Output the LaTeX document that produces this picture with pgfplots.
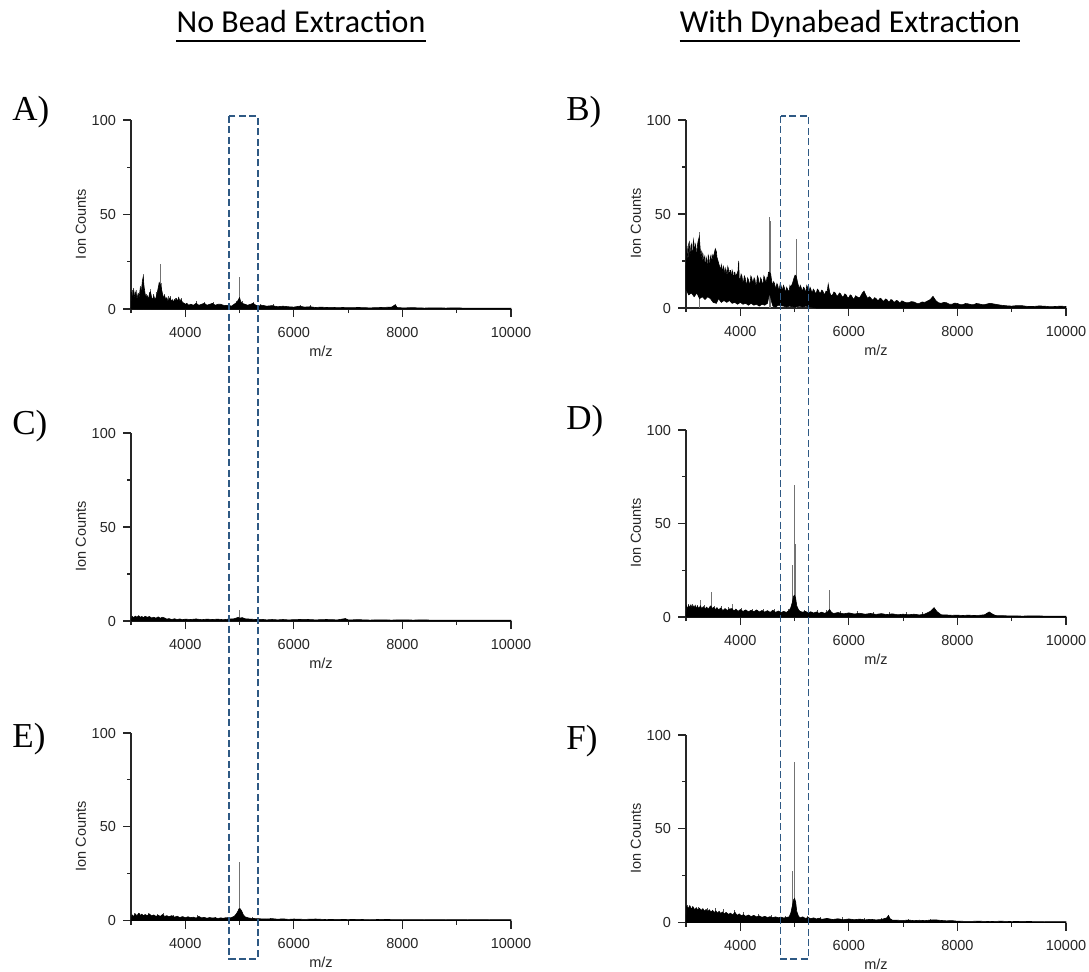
\documentclass[border=0pt]{standalone}
\usepackage{fontspec}
\setmainfont{Liberation Sans}
\newfontfamily\titlefont{Carlito}
\newfontfamily\panelfont{Liberation Serif}
\usepackage{pgfplots}
\pgfplotsset{compat=1.18}
\definecolor{boxblue}{RGB}{46,89,132}

\pgfplotsset{spec/.style={
  scale only axis, width=190pt,
  xmin=3000, xmax=10000, ymin=0, ymax=100,
  axis x line*=bottom, axis y line*=left,
  axis line style={line width=0.6pt, black!85},
  xtick={4000,6000,8000,10000}, minor xtick={3000,5000,7000,9000},
  ytick={0,50,100}, minor ytick={25,75},
  tick align=outside, major tick length=4pt, minor tick length=2pt,
  every tick/.style={line width=0.6pt, black!85},
  every minor tick/.style={line width=0.6pt, black!85},
  ticklabel style={font=\fontsize{7.25}{8}\selectfont, text=black!85},
  xticklabel style={yshift=-1.5pt},
  /pgf/number format/assume math mode=true,
  /pgf/number format/1000 sep={},
  scaled x ticks=false,
  clip=false,
  anchor=south west,
},
spec fill/.style={fill=black, draw=black, line width=0.3pt, no marks},
spec spike/.style={ycomb, draw=black!55, line width=0.45pt, no marks},
spec noise/.style={ycomb, draw=black!70, line width=0.35pt, no marks},
}
\newcommand{\axlabels}{%
  \node[font=\fontsize{7.25}{8}\selectfont, text=black!85] at (rel axis cs:0.5,-0.225) {m/z};
  \node[font=\fontsize{7.25}{8}\selectfont, text=black!85, rotate=90] at (rel axis cs:-0.1316,0.45) {Ion Counts};
}

\begin{document}
\begin{tikzpicture}
\path[use as bounding box] (0,0) rectangle (544.5pt,-485.5pt);

% ---------------- Panel A ----------------
\begin{axis}[spec, at={(65.5pt,-154.5pt)}, height=94.5pt]
\addplot[spec noise] coordinates {(3020,10) (3080,9) (3140,8.5) (3180,12) (3290,8) (3330,9) (3410,8) (3470,9) (3610,8) (3690,7) (3730,7) (3810,6) (3870,6.5) (3930,6) (4210,4) (4360,3.5) (4520,3.5) (4940,4) (5060,4.5) (5260,3.5) (5380,2.5) (5620,2.5) (6120,2) (6310,2)};
\addplot[spec spike] coordinates {(3050,11) (3100,10) (3225,18.3) (3350,10.5) (3540,24) (3560,13.5) (5000,16.7)};
\addplot[spec fill] table {
3000 0
3010 9
3030 5
3050 10
3070 6
3090 9
3110 5
3130 8
3150 6
3170 11
3190 9
3210 15
3225 17
3240 12
3260 8
3280 6
3300 7
3320 5
3340 8
3360 9
3380 6
3400 5
3420 7
3440 5
3460 6
3480 8
3500 11
3520 14
3540 13
3560 11
3580 8
3600 6
3620 7
3640 5
3660 6
3680 4
3700 5
3720 6
3740 4
3760 5
3780 3.5
3800 5
3820 4
3840 5.5
3860 4
3880 6
3900 4
3920 5
3950 3.5
3980 3
4000 2.5
4030 3
4060 2
4100 2.5
4150 2
4200 3
4250 2
4300 2.5
4350 3
4400 2
4450 2.5
4500 3
4550 2
4600 2.5
4650 2.5
4700 2
4750 1.8
4800 2
4850 1.5
4900 2.5
4950 3.5
4980 5
5000 6
5020 4
5050 3
5100 2.5
5150 2
5200 2.5
5250 3
5300 2
5350 1.5
5400 2
5450 1.8
5500 1.5
5600 1.8
5700 1.2
5800 1.5
5900 1.2
6000 1.0
6100 1.5
6200 1.0
6300 1.2
6400 0.8
6500 1.0
6600 0.8
6700 0.9
6800 0.7
6900 0.8
7000 0.7
7200 0.8
7400 0.6
7600 0.8
7800 1.0
7870 2.3
7900 0.8
8000 0.6
8200 0.7
8400 0.5
8600 0.6
8800 0.5
9000 0.6
9200 0.4
9400 0.5
9600 0.4
9800 0.5
10000 0.4
} \closedcycle;
\axlabels
\end{axis}

% ---------------- Panel B ----------------
\begin{axis}[spec, at={(343pt,-154pt)}, height=94pt]
\addplot[spec spike] coordinates {(3245,40.6) (4530,48.3) (4560,46.3) (5030,36.5)};
\addplot[spec fill] table {
3000 22
3010 30
3020 33
3030 27
3040 26
3050 34
3060 35
3070 29
3080 28
3090 33
3100 34
3110 28
3120 27
3130 34
3140 36
3150 31
3160 30
3170 34
3180 33
3190 29
3200 28
3210 33
3220 35
3245 38
3260 32
3270 29
3280 26
3290 30
3300 29
3310 25
3320 24
3330 28
3340 27
3350 23
3360 22
3370 27
3380 26
3390 22
3400 23
3410 28
3420 27
3430 23
3440 22
3450 27
3460 28
3470 24
3480 25
3490 28
3500 27
3520 29
3540 31.5
3560 30
3570 27
3580 26
3590 25
3600 24
3610 23
3620 22
3630 21
3640 20
3650 23
3660 22
3670 20
3680 19
3690 22
3700 21
3710 19
3720 18
3730 21
3740 20
3750 18
3760 18
3770 22
3780 21
3790 18
3800 17
3810 20
3820 20
3830 17
3840 17
3850 20
3860 19
3870 16
3880 16
3890 19
3900 19
3910 17
3920 17
3930 18
3940 18
3960 20
3970 25
3980 16
4000 15
4015 18
4030 17
4045 14
4060 14
4075 17
4090 16
4105 13
4120 13
4135 16
4150 15
4165 13
4180 13
4195 17
4210 16
4225 14
4240 14
4255 16
4270 15
4285 12
4300 12.5
4315 17
4330 16
4345 13
4360 13
4375 16
4390 15
4405 13
4420 13
4435 17
4450 16
4465 14
4480 14
4490 16
4500 15
4520 19
4540 19
4560 18
4580 14
4600 12
4615 14
4630 13
4645 11
4660 11
4675 13
4690 12
4705 10
4720 10
4735 13
4750 12
4765 10
4780 10
4795 12
4810 11
4825 9
4840 9
4855 11
4870 10
4885 9
4900 9
4915 12
4930 11
4960 13
4990 16
5010 17.5
5030 17
5060 13
5090 10
5105 12
5120 11
5135 9.5
5150 9.5
5165 11
5180 10.5
5195 9
5210 9
5225 12
5240 11
5255 9
5270 9
5285 11
5300 10
5315 8.5
5330 8.5
5345 10
5360 9.5
5380 8
5400 8
5420 10
5440 9.5
5460 8
5480 8
5500 9.5
5520 9
5540 7.5
5560 7.5
5580 9
5600 8.5
5620 12.7
5650 8
5675 6.5
5700 7
5725 8.5
5750 8
5775 6.5
5800 6.5
5825 8
5850 7.5
5875 6
5900 6
5925 7.5
5950 7
5975 5.5
6000 5.5
6025 7
6050 6.5
6075 5
6100 5
6125 6.5
6150 6
6175 5.5
6200 5.5
6250 8
6280 9
6310 7
6350 5
6375 6
6400 5.5
6425 4.5
6450 4.5
6475 5.5
6500 5
6525 4.2
6550 4.2
6575 5.2
6600 4.8
6625 3.8
6650 3.8
6675 4.8
6700 4.5
6725 3.5
6750 3.5
6775 4.5
6800 4.2
6825 3.2
6850 3.2
6875 4
6900 3.8
6925 3
6950 3
6975 3.8
7000 3.5
7050 2.8
7100 2.8
7150 3.4
7200 3.2
7250 2.5
7300 2.5
7350 3.2
7400 3
7500 4.5
7550 6.2
7600 4
7650 2.8
7700 2.5
7750 3
7800 2.8
7850 2
7900 2
7950 2.6
8000 2.4
8050 1.8
8100 1.8
8150 2.4
8200 2.2
8250 1.8
8300 1.8
8350 2.4
8400 2.2
8450 1.8
8500 1.8
8600 2.5
8700 2
8800 1.5
8900 1.2
9000 1
9100 1.3
9200 1.2
9300 0.8
9400 0.8
9500 1.1
9600 1.0
9700 0.7
9800 0.8
9900 1
10000 0.8
10000 0
5400 0
5300 0.5
5200 1
5150 0.5
5100 1
5000 0.5
4900 1
4850 0.5
4800 1
4700 1.5
4650 0.5
4600 1
4580 3
4540 8
4500 2.5
4450 1.5
4400 2
4350 1
4300 2
4250 1.5
4200 2.5
4150 1.5
4100 2.5
4050 2
4000 3
3950 2
3900 3
3850 2.5
3800 4
3750 3
3700 4
3650 3
3600 5
3560 2.5
3500 3
3450 5
3400 6
3350 4.5
3300 6
3250 5
3200 8
3150 6
3100 8
3050 7
3000 10
3000 22
};
\axlabels
\end{axis}

% ---------------- Panel C ----------------
\begin{axis}[spec, at={(65.5pt,-310.5pt)}, height=94pt]
\addplot[spec spike] coordinates {(5000,5.9) (6950,1.5)};
\addplot[spec fill] table {
3000 0
3020 2.5
3050 1.8
3080 2.6
3110 2
3140 2.8
3170 2
3200 2.4
3230 1.8
3260 2.5
3300 2
3340 2.4
3380 1.6
3420 2
3460 1.5
3500 2.2
3540 1.5
3580 2
3620 1.6
3660 1
3700 1.3
3750 0.8
3800 1.2
3850 0.8
3900 1.1
3950 0.7
4000 1
4100 0.8
4200 1.1
4300 0.7
4400 1
4500 0.8
4600 1
4700 0.7
4800 1
4900 1.2
4980 2
5000 1.5
5050 1.8
5100 1.2
5200 1.0
5300 0.8
5400 0.9
5500 0.6
5600 0.8
5700 0.6
5800 0.8
5900 0.6
6000 0.7
6200 0.9
6400 0.6
6600 0.8
6800 0.6
6950 1.3
7000 0.6
7200 0.7
7400 0.5
7600 0.6
7800 0.5
8000 0.6
8200 0.5
8400 0.6
8600 0.4
8800 0.5
9000 0.4
9200 0.5
9400 0.4
9600 0.5
9800 0.4
10000 0.5
} \closedcycle;
\axlabels
\end{axis}

% ---------------- Panel D ----------------
\begin{axis}[spec, at={(343pt,-308.5pt)}, height=93.5pt]
\addplot[spec noise] coordinates {(3040,7) (3120,7) (3200,6.5) (3330,6.5) (3520,6) (3650,6) (3780,5.5) (4020,5) (4220,4.5) (4420,4.5) (4620,4.5) (4880,4.5) (5180,4) (5420,3.5) (5580,3.5) (5850,3) (6150,3) (6450,2.5) (6750,2.5) (7050,2.5) (7350,2.5)};
\addplot[spec spike] coordinates {(3265,9.3) (3460,13.4) (3850,6.8) (4970,28) (4990,17) (5000,70.7) (5010,39) (5645,14.3)};
\addplot[spec fill] table {
3000 0
3010 6
3030 4.5
3050 6.2
3070 5
3090 6.5
3110 4.8
3130 6
3150 5
3170 6.2
3190 4.6
3210 5.8
3240 4.5
3265 6
3290 4.5
3320 5.5
3350 4.2
3380 5.3
3410 4.2
3440 5.5
3460 6
3480 4.5
3510 5.2
3540 4
3570 5
3600 3.8
3640 4.8
3680 3.5
3720 4.5
3760 3.5
3800 4.3
3850 4.5
3880 3.2
3920 4.2
3960 3
4000 4
4050 3
4100 3.8
4150 2.8
4200 3.6
4250 2.8
4300 3.8
4350 2.7
4400 3.5
4450 2.6
4500 3.4
4550 2.5
4600 3.6
4650 2.5
4700 3.2
4750 2.4
4800 3
4850 2.5
4900 3.5
4930 5
4960 8
4980 11
5000 11.6
5020 10
5040 6
5070 4
5100 3
5150 2.6
5200 3
5250 2.3
5300 2.8
5350 2.1
5400 2.7
5450 2
5500 2.6
5550 2
5600 2.5
5645 4
5680 2.5
5720 1.9
5800 2.4
5900 1.7
6000 2.2
6100 1.6
6200 2
6300 1.5
6400 1.9
6500 1.4
6600 1.8
6700 1.3
6800 1.7
6900 1.2
7000 1.5
7100 1.2
7200 1.5
7300 1.1
7400 1.6
7500 3
7570 5
7620 3
7700 1.2
7800 1.1
7900 0.9
8000 1
8100 0.8
8200 1
8300 0.8
8400 0.9
8500 1.2
8585 2.7
8650 1.5
8700 0.8
8800 0.7
9000 0.6
9200 0.5
9400 0.6
9600 0.5
9800 0.5
10000 0.5
} \closedcycle;
\axlabels
\end{axis}

% ---------------- Panel E ----------------
\begin{axis}[spec, at={(65.5pt,-460.25pt)}, height=93.75pt]
\addplot[spec noise] coordinates {(3060,4) (3150,4.2) (3320,4) (3480,3.6) (3600,3.8) (3780,3) (4230,2.8) (4560,2) (4780,2) (5230,1.8) (5560,1.5)};
\addplot[spec spike] coordinates {(4990,6.5) (5000,31.3) (5005,19)};
\addplot[spec fill] table {
3000 0
3020 3
3050 2.2
3080 3.5
3110 2.5
3140 3.8
3170 2.8
3200 3.4
3230 2.5
3260 3.2
3300 2.6
3340 3.5
3380 2.4
3420 3
3460 2.2
3500 2.8
3540 2.2
3580 3.2
3620 2.2
3660 2.6
3700 2
3750 2.6
3800 1.8
3850 2.3
3900 1.6
3950 2.1
4000 1.5
4050 2
4100 1.5
4150 1.8
4200 1.3
4250 2.2
4300 1.4
4350 1.7
4400 1.2
4450 1.6
4500 1.3
4550 1.5
4600 1.1
4650 1.4
4700 1.2
4750 1.5
4800 1.2
4850 1.6
4900 2.2
4940 3.5
4970 5
4990 6.3
5010 6.3
5040 5
5070 3
5100 2
5150 1.5
5200 1.2
5300 1.0
5400 0.9
5500 0.8
5600 1.0
5700 0.7
5800 0.9
5900 0.6
6000 0.8
6200 0.6
6400 0.8
6600 0.5
6800 0.6
7000 0.5
7200 0.6
7400 0.4
7600 0.6
7800 0.5
8000 0.4
8200 0.5
8400 0.4
8600 0.5
8800 0.4
9000 0.5
9200 0.4
9400 0.5
9600 0.4
9800 0.5
10000 0.4
} \closedcycle;
\axlabels
\end{axis}

% ---------------- Panel F ----------------
\begin{axis}[spec, at={(343pt,-461.25pt)}, height=93.75pt]
\addplot[spec noise] coordinates {(3030,9.5) (3110,9) (3230,8.5) (3390,8) (3540,7.5) (3690,7) (3890,6.5) (4060,5.5) (4330,4.5) (4580,4) (4830,3.5) (5230,3.5) (5480,3) (5880,2.8) (6280,2.5) (6600,2.2) (7100,2) (7500,2)};
\addplot[spec spike] coordinates {(4970,27.6) (5000,85.4) (5005,45)};
\addplot[spec fill] table {
3000 0
3010 8.7
3040 7.5
3070 9
3100 7.2
3130 8.3
3160 6.8
3190 7.9
3220 6.5
3250 7.6
3280 6.4
3310 7.4
3340 6
3370 7
3400 5.8
3430 6.8
3460 5.5
3490 6.5
3520 5.3
3550 6.2
3580 5
3610 6
3640 4.8
3670 5.6
3700 4.6
3740 5.4
3780 4.3
3820 5
3860 4
3900 5.5
3940 3.8
3980 4.6
4020 3.6
4060 4.2
4100 3.3
4150 4
4200 3.2
4250 3.8
4300 3
4350 3.5
4400 2.8
4450 3.3
4500 2.7
4550 3.1
4600 2.6
4650 3
4700 2.5
4750 2.9
4800 2.4
4850 2.7
4900 3
4930 5
4960 9
4980 12
5000 12.9
5020 11
5040 6
5070 3.5
5100 2.5
5150 3
5200 2.2
5250 2.7
5300 2
5350 2.5
5400 1.9
5450 2.3
5500 1.7
5600 2.2
5700 1.6
5800 2
5900 1.5
6000 1.9
6100 1.5
6200 1.8
6300 1.4
6400 1.7
6500 1.4
6600 1.6
6700 2.5
6730 3.8
6760 2
6800 1.3
6900 1.2
7000 1.1
7100 1.3
7200 1
7300 1.2
7400 1
7500 1.3
7600 1.4
7700 1.1
7800 0.9
7900 1
8000 0.7
8200 0.6
8400 0.7
8600 0.5
8800 0.7
9000 0.5
9200 0.6
9400 0.5
9600 0.4
9800 0.5
10000 0.4
} \closedcycle;
\axlabels
\end{axis}

% ---------------- titles and panel letters ----------------
\node[font=\titlefont\fontsize{16}{19}\selectfont, anchor=base, inner sep=0pt] (t1) at (150.5pt,-16pt) {No Bead Extraction};
\draw[line width=1pt] ([yshift=-4.5pt]t1.base west) -- ([yshift=-4.5pt]t1.base east);
\node[font=\titlefont\fontsize{16}{19}\selectfont, anchor=base, inner sep=0pt] (t2) at (425pt,-16pt) {With Dynabead Extraction};
\draw[line width=1pt] ([yshift=-4.5pt]t2.base west) -- ([yshift=-4.5pt]t2.base east);

\foreach \lab/\x/\y in {A/6/-60, B/283/-60, C/6/-217, D/283/-214.5, E/6/-373.5, F/283/-374.5}{
  \node[font=\panelfont\fontsize{17.5}{20}\selectfont, anchor=base west, inner sep=0pt] at (\x pt,\y pt) {\lab)};
}

% ---------------- dashed boxes ----------------
\draw[boxblue, line width=0.9pt, dash pattern=on 3.5pt off 1.7pt] (114.65pt,-58pt) rectangle (128.85pt,-479.5pt);
\draw[boxblue, line width=0.9pt, dash pattern=on 3.5pt off 1.7pt] (390.25pt,-58pt) rectangle (404.25pt,-479.5pt);
\end{tikzpicture}
\end{document}
